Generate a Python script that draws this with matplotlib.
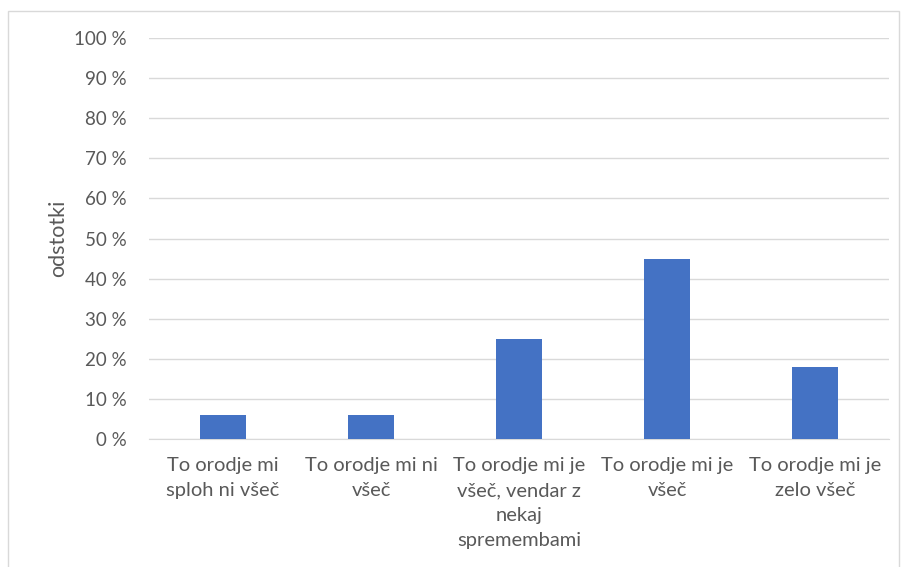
import matplotlib.pyplot as plt
from matplotlib.patches import Rectangle
from matplotlib.ticker import FuncFormatter

# data
categories = [
    "To orodje mi\nsploh ni všeč",
    "To orodje mi ni\nvšeč",
    "To orodje mi je\nvšeč, vendar z\nnekaj\nspremembami",
    "To orodje mi je\nvšeč",
    "To orodje mi je\nzelo všeč",
]
values = [6, 6, 25, 45, 18]
yticks = list(range(0, 101, 10))

plt.rcParams['font.family'] = ['Lato', 'DejaVu Sans']
textColor = '#595959'

fig = plt.figure(figsize=(9.06, 5.67), dpi=100)
ax = fig.add_axes([149 / 906, 1 - 439 / 567, 740 / 906, 401 / 567])

# outer chart border like in Excel
fig.patches.append(Rectangle((8 / 906, -0.01), 891 / 906, 1 - 11 / 567 + 0.01,
                             transform=fig.transFigure, fill=False,
                             edgecolor='#d9d9d9', linewidth=1))

x = range(len(categories))
ax.bar(x, values, width=0.31, color='#4472c4', zorder=3)

ax.set_ylim(0, 100)
ax.set_xlim(-0.5, len(categories) - 0.5)
ax.set_yticks(yticks)
ax.yaxis.set_major_formatter(FuncFormatter(lambda v, p: f"{int(v)} %"))
ax.grid(axis='y', color='#d9d9d9', linewidth=1, zorder=0)
ax.set_xticks(list(x))
ax.set_xticklabels(categories, linespacing=1.58, va='top')

for s in ['top', 'right', 'left']:
    ax.spines[s].set_visible(False)
ax.spines['bottom'].set_color('#d9d9d9')
ax.tick_params(axis='both', length=0, colors=textColor)
ax.tick_params(axis='y', pad=16, labelsize=13.5)
ax.tick_params(axis='x', pad=13, labelsize=14.5)

ax.set_ylabel('odstotki', fontsize=15.5, color=textColor, labelpad=4)

plt.savefig('out.png', dpi=100)
